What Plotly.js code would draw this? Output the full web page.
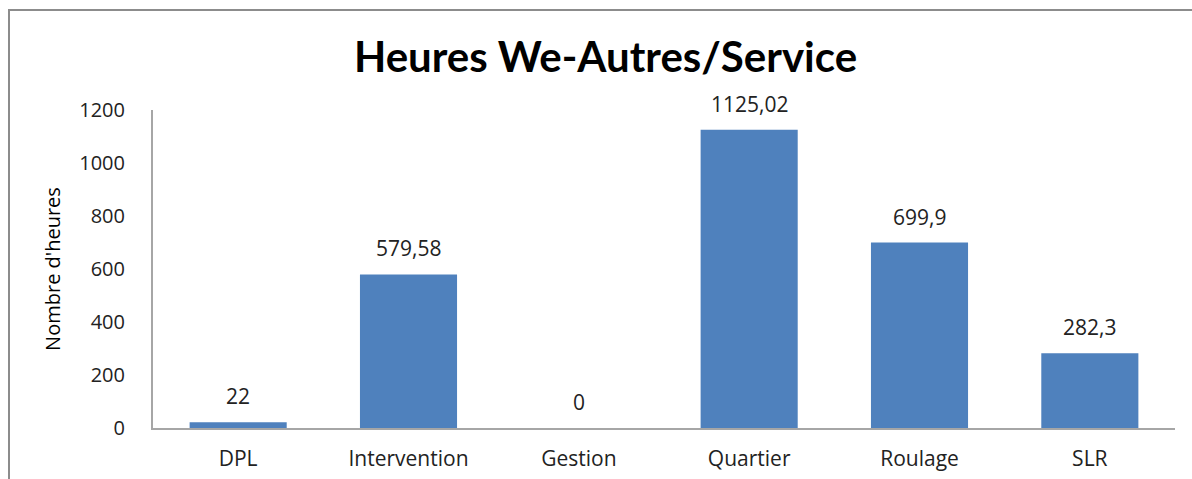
<!DOCTYPE html>
<html>
<head>
<meta charset="utf-8">
<script src="https://cdn.plot.ly/plotly-3.0.1.min.js"></script>
<style>
  body { margin:0; background:#fff; }
  #frame { position:absolute; left:8px; top:9px; width:1200px; height:500px;
           border-top:2px solid #8c8c8c; border-left:2px solid #8c8c8c; }
  #chart { position:absolute; left:0; top:0; width:1192px; height:479px; }
</style>
</head>
<body>
<div id="frame"></div>
<div id="chart"></div>
<script>
// services et heures
var services = ["DPL", "Intervention", "Gestion", "Quartier", "Roulage", "SLR"]
var heures = [22, 579.58, 0, 1125.02, 699.9, 282.3]
var yTicks = [0, 200, 400, 600, 800, 1000, 1200]

// étiquettes avec virgule décimale
var etiquettes = heures.map(function (v) { return String(v).replace('.', ',') })

var police = '"Open Sans", sans-serif'

var data = [{
    type: 'bar',
    x: services,
    y: heures,
    marker: { color: '#4f81bd' },
    hoverinfo: 'none'
}]

// étiquettes posées au-dessus des barres
var annots = []
for (let i = 0; i < services.length; i++) {
    annots.push({
        x: services[i], y: heures[i], xref: 'x', yref: 'y',
        text: etiquettes[i], showarrow: false,
        yanchor: 'bottom', yshift: 10,
        font: { family: police, size: 21, color: '#222' }
    })
}

var layout = {
    width: 1192,
    height: 479,
    margin: { l: 153, r: 17, t: 110, b: 51 },
    paper_bgcolor: 'rgba(0,0,0,0)',
    plot_bgcolor: 'rgba(0,0,0,0)',
    bargap: 0.43,
    showlegend: false,
    font: { family: police, size: 21, color: '#222' },
    annotations: annots,
    title: {
        text: '<b>Heures We-Autres/Service</b>',
        font: { family: 'Lato, sans-serif', size: 42, color: '#000' },
        xref: 'container', x: 0.508, xanchor: 'center',
        yref: 'container', y: 0.88, yanchor: 'middle'
    },
    xaxis: {
        showline: true, linecolor: '#a6a6a6', linewidth: 2,
        ticks: '', showgrid: false,
        ticklabelstandoff: 11,
        tickfont: { family: police, size: 21, color: '#222' }
    },
    yaxis: {
        range: [0, 1200],
        tickvals: yTicks,
        showline: true, linecolor: '#a6a6a6', linewidth: 2,
        showgrid: false, zeroline: false, ticks: '',
        ticklabelstandoff: 22,
        tickfont: { family: police, size: 20, color: '#222' },
        title: { text: "Nombre d'heures", font: { family: police, size: 20, color: '#000' }, standoff: 13 }
    }
}

Plotly.newPlot('chart', data, layout, { displayModeBar: false, staticPlot: true })
</script>
</body>
</html>
